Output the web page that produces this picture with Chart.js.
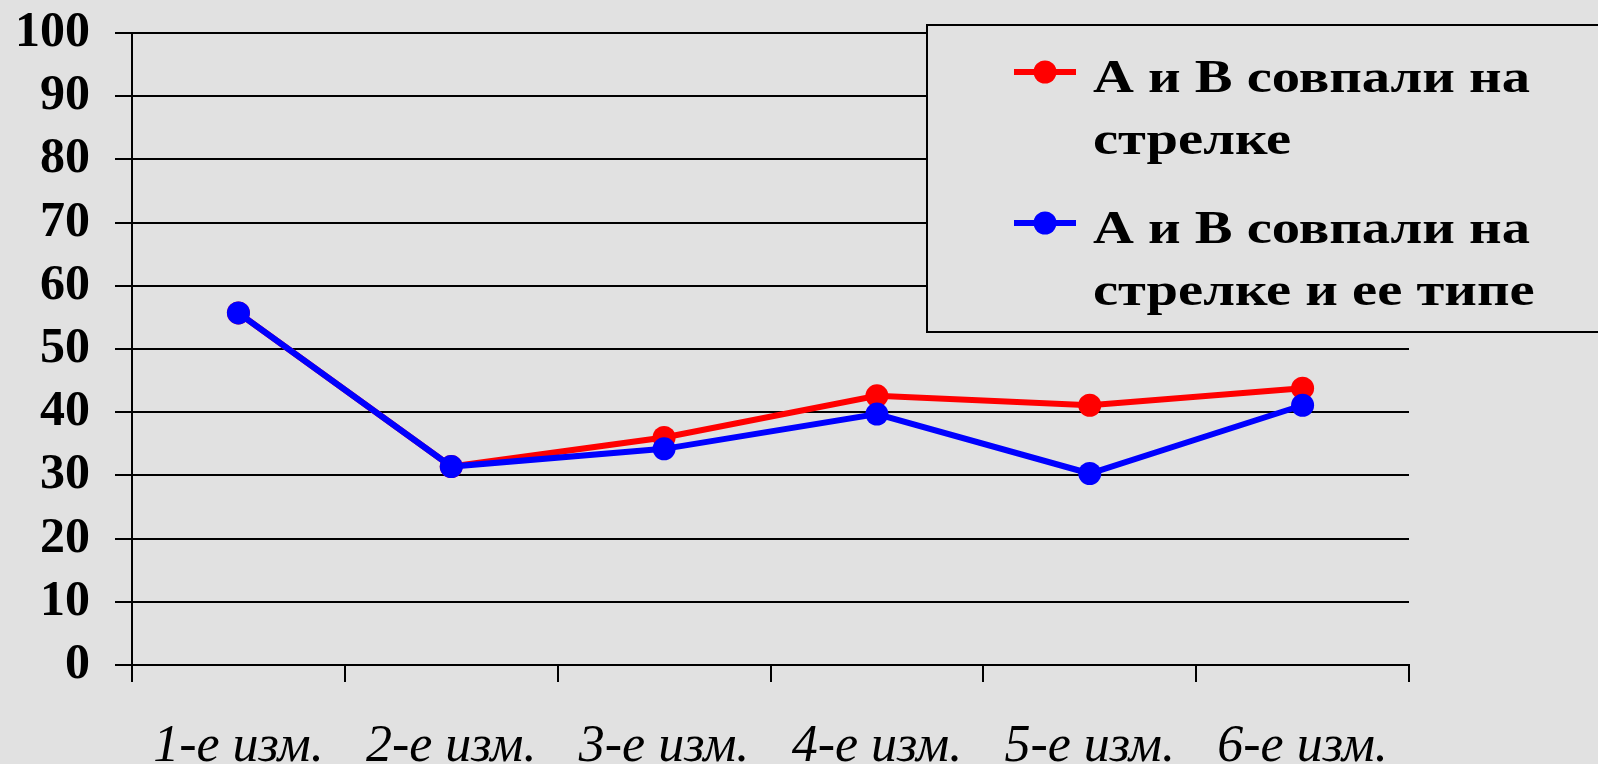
<!DOCTYPE html>
<html>
<head>
<meta charset="utf-8">
<script src="https://cdn.jsdelivr.net/npm/chart.js@4"></script>
<style>
html, body { margin: 0; padding: 0; background: #e1e1e1; }
</style>
</head>
<body>
<canvas id="chart" width="1598" height="764"></canvas>
<script>
const categories = ['1-е изм.', '2-е изм.', '3-е изм.', '4-е изм.', '5-е изм.', '6-е изм.'];
const matchArrow = [55.7, 31.4, 36.0, 42.6, 41.1, 43.8];
const matchArrowType = [55.7, 31.4, 34.2, 39.7, 30.3, 41.1];
const legendLines = [
    ['А и В совпали на', 'стрелке'],
    ['А и В совпали на', 'стрелке и ее типе']
];

// legend box is drawn by hand, it sits over the plot like in the original
const legendBox = {
    id: 'legendBox',
    afterDraw(chart) {
        const ctx = chart.ctx;
        ctx.save();
        ctx.fillStyle = '#e1e1e1';
        ctx.fillRect(927, 25, 700, 307);
        ctx.strokeStyle = '#000';
        ctx.lineWidth = 2;
        ctx.strokeRect(927, 25, 700, 307);

        const rowY = [72, 223];
        chart.data.datasets.forEach((ds, i) => {
            const y = rowY[i];
            ctx.strokeStyle = ds.borderColor;
            ctx.lineWidth = 6;
            ctx.beginPath();
            ctx.moveTo(1014, y);
            ctx.lineTo(1076, y);
            ctx.stroke();
            ctx.fillStyle = ds.borderColor;
            ctx.beginPath();
            ctx.arc(1045, y, 11.5, 0, Math.PI * 2);
            ctx.fill();

            ctx.fillStyle = '#000';
            ctx.font = 'bold 46px "Liberation Serif"';
            ctx.textBaseline = 'alphabetic';
            ctx.textAlign = 'left';
            legendLines[i].forEach((line, j) => {
                ctx.save();
                ctx.translate(1093, y + 20 + j * 62);
                ctx.scale(1.23, 1);
                ctx.fillText(line, 0, 0);
                ctx.restore();
            });
        });
        ctx.restore();
    }
};

const ctx = document.getElementById('chart').getContext('2d');
new Chart(ctx, {
    type: 'line',
    data: {
        labels: categories,
        datasets: [{
            label: legendLines[0].join(' '),
            data: matchArrow,
            borderColor: '#ff0000',
            backgroundColor: '#ff0000',
            borderWidth: 6,
            pointRadius: 11.5,
            pointBorderWidth: 0,
            tension: 0,
            order: 1
        }, {
            label: legendLines[1].join(' '),
            data: matchArrowType,
            borderColor: '#0000ff',
            backgroundColor: '#0000ff',
            borderWidth: 6,
            pointRadius: 11.5,
            pointBorderWidth: 0,
            tension: 0,
            order: 0
        }]
    },
    options: {
        responsive: false,
        animation: false,
        layout: { padding: { left: 0, right: 189, top: 33, bottom: 0 } },
        plugins: {
            legend: { display: false },
            tooltip: { enabled: false }
        },
        scales: {
            x: {
                offset: true,
                grid: {
                    offset: true,
                    color: c => c.index === categories.length ? '#000' : 'rgba(0,0,0,0)',
                    tickColor: '#000',
                    tickLength: 17,
                    lineWidth: 2
                },
                border: { display: true, color: '#000', width: 2 },
                ticks: {
                    color: '#000',
                    font: { family: 'Liberation Serif', style: 'italic', size: 52 },
                    padding: 34,
                    maxRotation: 0,
                    autoSkip: false
                },
                afterFit: scale => { scale.height = 99; }
            },
            y: {
                min: 0,
                max: 100,
                grid: { color: '#000', lineWidth: 2, tickLength: 17 },
                border: { display: true, color: '#000', width: 2 },
                ticks: {
                    stepSize: 10,
                    autoSkip: false,
                    color: '#000',
                    font: { family: 'Liberation Serif', weight: 'bold', size: 50 },
                    padding: 25
                },
                afterFit: scale => {
                    scale.width = 132;
                    scale.paddingTop = 0;
                    scale.paddingBottom = 0;
                }
            }
        }
    },
    plugins: [legendBox]
});
</script>
</body>
</html>
